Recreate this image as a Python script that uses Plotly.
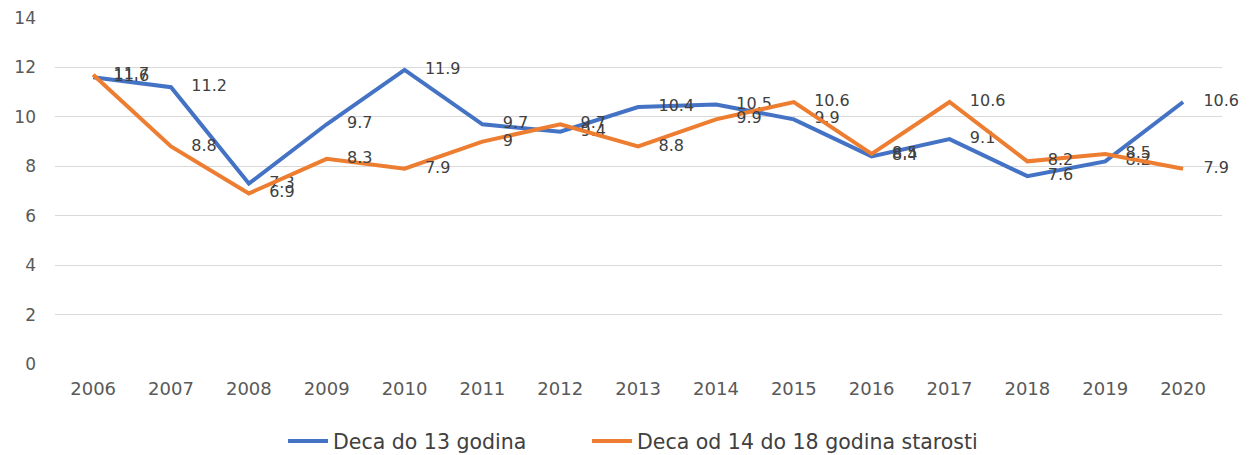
import plotly.graph_objects as go

years = ["2006", "2007", "2008", "2009", "2010", "2011", "2012", "2013", "2014",
         "2015", "2016", "2017", "2018", "2019", "2020"]
deca_do_13 = [11.6, 11.2, 7.3, 9.7, 11.9, 9.7, 9.4, 10.4, 10.5, 9.9, 8.4, 9.1, 7.6, 8.2, 10.6]
deca_14_18 = [11.7, 8.8, 6.9, 8.3, 7.9, 9.0, 9.7, 8.8, 9.9, 10.6, 8.5, 10.6, 8.2, 8.5, 7.9]
name_a = "Deca do 13 godina"
name_b = "Deca od 14 do 18 godina starosti"
y_ticks = [0, 2, 4, 6, 8, 10, 12, 14]

FONT = "DejaVu Sans"
LABEL_COLOR = "#404040"
TICK_COLOR = "#595959"
PAD = "\u00a0" * 4


def fmt(v):
    return f"{v:g}"


fig = go.Figure()
fig.add_trace(go.Scatter(
    x=years, y=deca_do_13, name=name_a, mode="lines+text",
    line=dict(color="#4472C4", width=4),
    text=[PAD + fmt(v) for v in deca_do_13], textposition="middle right",
    textfont=dict(family=FONT, size=16, color=LABEL_COLOR),
    cliponaxis=False, legend="legend",
))
fig.add_trace(go.Scatter(
    x=years, y=deca_14_18, name=name_b, mode="lines+text",
    line=dict(color="#ED7D31", width=4),
    text=[PAD + fmt(v) for v in deca_14_18], textposition="middle right",
    textfont=dict(family=FONT, size=16, color=LABEL_COLOR),
    cliponaxis=False, legend="legend2",
))

legend_common = dict(orientation="h", xanchor="left", y=-0.165, yanchor="top",
                     font=dict(family=FONT, size=20.5, color="#404040"),
                     itemwidth=40, bgcolor="rgba(0,0,0,0)")

fig.update_layout(
    width=1252, height=455,
    margin=dict(l=55, r=30, t=18, b=91, autoexpand=False),
    paper_bgcolor="white", plot_bgcolor="white",
    font=dict(family=FONT, size=16, color=TICK_COLOR),
    showlegend=True,
    legend=dict(x=0.1954, **legend_common),
    legend2=dict(x=0.4559, **legend_common),
    xaxis=dict(type="category", range=[-0.49, 14.5], showgrid=False,
               showline=False, zeroline=False, ticks="", automargin=False,
               ticklabelstandoff=12,
               tickfont=dict(family=FONT, size=18, color=TICK_COLOR)),
    yaxis=dict(range=[0, 14], tickvals=y_ticks, showgrid=True, gridcolor="#d9d9d9",
               gridwidth=1, zeroline=False, showline=False, automargin=False,
               ticklabelstandoff=18,
               tickfont=dict(family=FONT, size=17, color=TICK_COLOR)),
)

fig.write_html(
    "out.html",
    config={"displayModeBar": False},
    post_script="document.body.style.margin='0';document.body.style.overflow='hidden';",
)
